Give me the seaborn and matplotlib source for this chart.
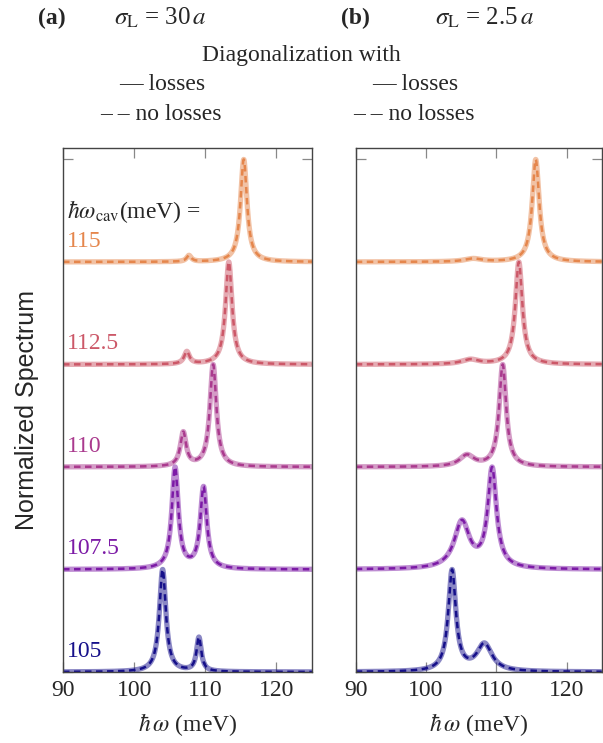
import numpy as np
import pandas as pd
import matplotlib.pyplot as plt
import seaborn as sns

# cavity energies (meV), bottom to top
cavity = [105, 107.5, 110, 112.5, 115]
cav_labels = ["105", "107.5", "110", "112.5", "115"]

# panel (a), sigma_L = 30a : peak centres / heights / fwhm (meV)
a_centres = [[104.0, 109.1], [105.75, 109.75], [106.9, 111.1], [107.4, 113.3], [107.7, 115.4]]
a_heights = [[1.0, 0.33], [0.97, 0.78], [0.33, 1.0], [0.12, 1.0], [0.06, 1.0]]
a_widths = [[1.1, 0.8], [1.1, 1.1], [1.0, 1.1], [0.9, 1.1], [0.8, 1.1]]

# panel (b), sigma_L = 2.5a
b_centres = [[103.7, 108.3], [105.1, 109.4], [105.8, 110.9], [106.3, 113.2], [106.7, 115.6]]
b_heights = [[1.0, 0.27], [0.45, 0.95], [0.11, 1.0], [0.045, 1.0], [0.03, 1.0]]
b_widths = [[1.3, 2.6], [2.6, 1.5], [2.5, 1.2], [3.0, 1.2], [3.0, 1.2]]

colors = ["#16108a", "#7c1aa6", "#aa3a8e", "#cc5868", "#e5864c"]

omega = np.linspace(90, 125, 1400)


def spectrum(centres, heights, widths):
    s = np.zeros_like(omega)
    for c, h, w in zip(centres, heights, widths):
        s += h * (w / 2) ** 2 / ((omega - c) ** 2 + (w / 2) ** 2)
    return s / s.max()


rows = []
for panel, (C, H, W) in {"a": (a_centres, a_heights, a_widths),
                         "b": (b_centres, b_heights, b_widths)}.items():
    for i, cav in enumerate(cavity):
        s = spectrum(C[i], H[i], W[i])
        rows.append(pd.DataFrame({"omega": omega, "spec": s + i, "cav": cav, "panel": panel}))
df = pd.concat(rows, ignore_index=True)

sns.set_style("ticks")
plt.rcParams["font.family"] = ["Liberation Serif", "DejaVu Serif"]
plt.rcParams["mathtext.fontset"] = "stix"

fs = 17
fig = plt.figure(figsize=(6.03, 7.43), dpi=100)
ax_a = fig.add_axes([0.1045, 0.0956, 0.413, 0.705])
ax_b = fig.add_axes([0.590, 0.0956, 0.408, 0.705])

for ax, panel in [(ax_a, "a"), (ax_b, "b")]:
    sub = df[df.panel == panel]
    for i, cav in enumerate(cavity):
        d = sub[sub.cav == cav]
        sns.lineplot(data=d, x="omega", y="spec", ax=ax, color=colors[i], lw=3.8,
                     alpha=0.5, sort=False, errorbar=None, solid_capstyle="butt")
        sns.lineplot(data=d, x="omega", y="spec", ax=ax, color=colors[i], lw=1.8,
                     linestyle=(0, (2.6, 1.8)), sort=False, errorbar=None)
    ax.set_xlim(90, 125)
    ax.set_ylim(0, 5.11)
    ax.set_xticks([90, 100, 110, 120])
    ax.set_yticks([0, 5])
    ax.set_yticklabels([])
    ax.tick_params(direction="in", length=7, width=0.9, color="#888888",
                   top=True, right=True, labelsize=fs, pad=6)
    for sp in ax.spines.values():
        sp.set_color("#444444")
        sp.set_linewidth(1.0)
    ax.set_xlabel(r"$\hbar\,\omega$ (meV)", fontsize=fs, labelpad=7)
    ax.set_ylabel("")

ax_a.text(90.5, 4.49, r"$\hbar\omega_{\mathrm{cav}}$(meV) =", fontsize=fs, va="center", ha="left")
for i, lab in enumerate(cav_labels):
    ax_a.text(90.6, i + 0.2, lab, color=colors[i], fontsize=fs, va="center", ha="left")

fig.text(0.045, 1 - 410 / 743, "Normalized Spectrum", rotation=90, fontsize=18,
         family="Liberation Sans", va="center", ha="center")

ty = 1 - 18 / 743
fig.text(52 / 603, ty, "(a)", fontsize=fs, weight="bold", ha="center", va="center")
fig.text(160 / 603, ty, r"$\sigma_{\mathrm{L}}$ = 30$\,a$", fontsize=18, ha="center", va="center")
fig.text(355 / 603, ty, "(b)", fontsize=fs, weight="bold", ha="center", va="center")
fig.text(485 / 603, ty, r"$\sigma_{\mathrm{L}}$ = 2.5$\,a$", fontsize=18, ha="center", va="center")
fig.text(0.5, 1 - 55 / 743, "Diagonalization with", fontsize=fs, ha="center", va="center")
for cx, cx2 in [(162, 161), (415, 414)]:
    fig.text(cx / 603, 1 - 84 / 743, "— losses", fontsize=fs, ha="center", va="center")
    fig.text(cx2 / 603, 1 - 115 / 743, "– – no losses", fontsize=fs, ha="center", va="center")

fig.savefig("out.png", dpi=100)
